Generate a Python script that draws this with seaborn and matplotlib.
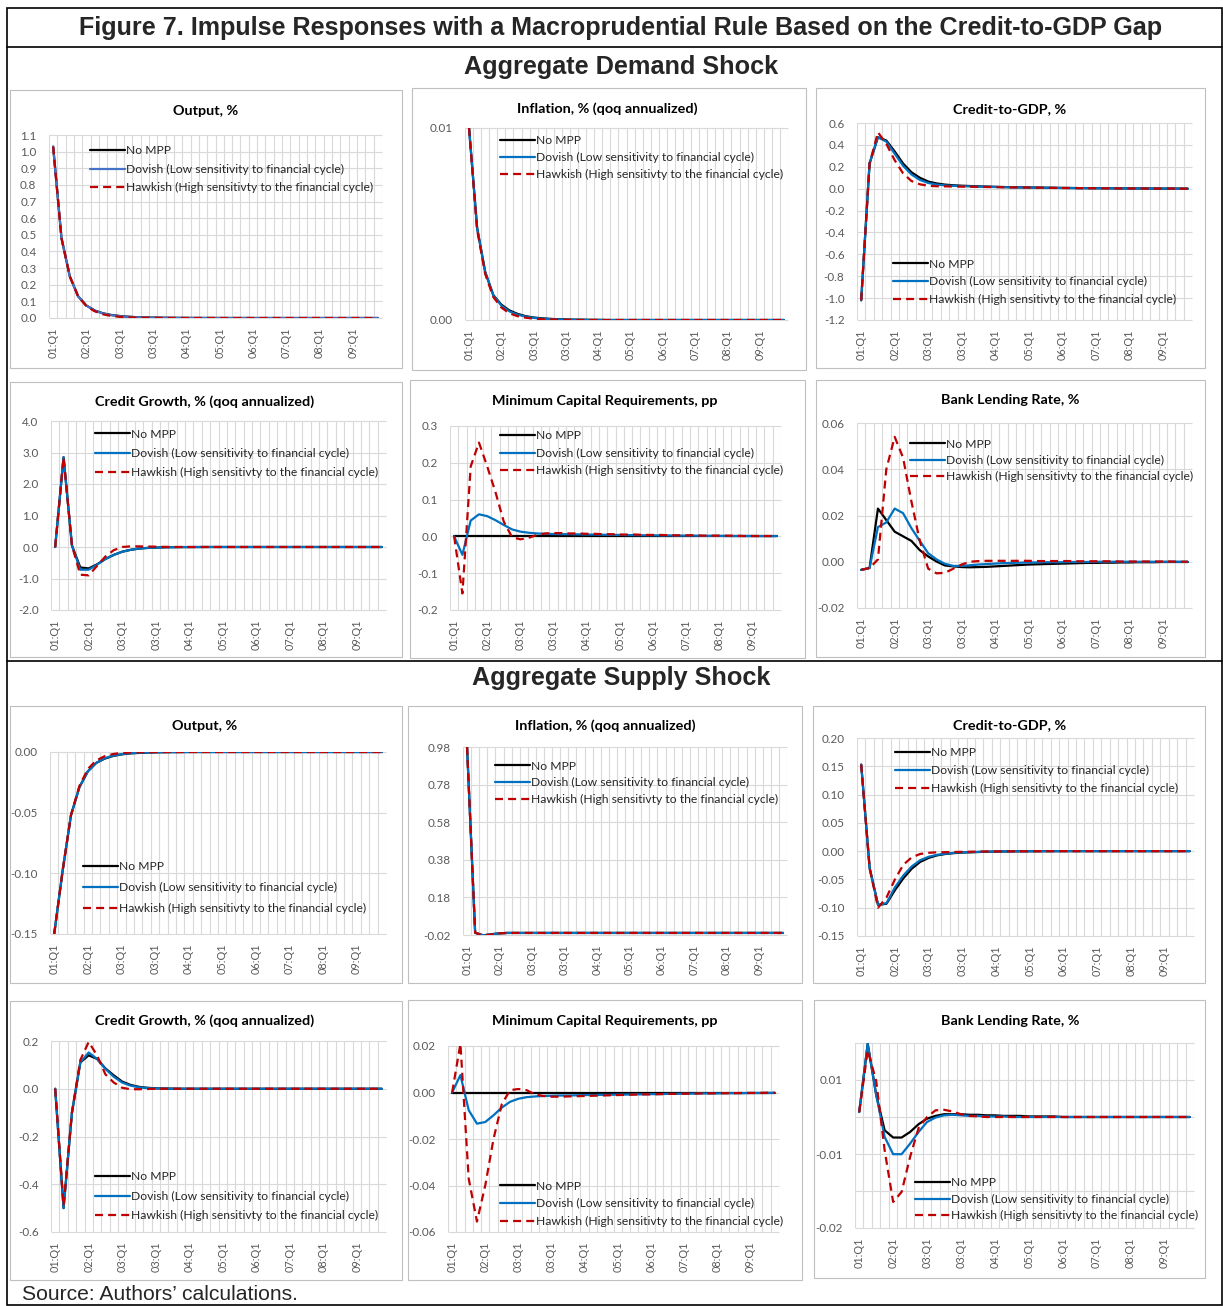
import numpy as np
import pandas as pd
import matplotlib
matplotlib.use("Agg")
import matplotlib.pyplot as plt
import seaborn as sns
from matplotlib.patches import Rectangle
from matplotlib.lines import Line2D

sns.set_theme(style="white")
plt.rcParams["font.family"] = ["Lato", "DejaVu Sans"]

# ---------------- data ----------------
SERIES = ["No MPP",
          "Dovish (Low sensitivity to financial cycle)",
          "Hawkish (High sensitivty to the financial cycle)"]
quarters = list(range(40))
xtick_pos = [0, 4, 8, 12, 16, 20, 24, 28, 32, 36]
xtick_labels = ["01:Q1", "02:Q1", "03:Q1", "03:Q1", "04:Q1", "05:Q1", "06:Q1", "07:Q1", "08:Q1", "09:Q1"]

# Aggregate demand shock
d_output_nompp = [1.03, 0.48, 0.25, 0.13, 0.075, 0.045, 0.028, 0.018, 0.012, 0.008,
                  0.005, 0.0035, 0.0025, 0.0018, 0.0012, 0.0008, 0.0006, 0.0004, 0.0003, 0.0002,
                  0.0002, 0.0001, 0.0001, 0.0001, 0.0, 0.0, 0.0, 0.0, 0.0, 0.0,
                  0.0, 0.0, 0.0, 0.0, 0.0, 0.0, 0.0, 0.0, 0.0, 0.0]
d_output_dovish = [1.03, 0.48, 0.25, 0.13, 0.074, 0.044, 0.027, 0.017, 0.011, 0.007,
                   0.0045, 0.003, 0.002, 0.0015, 0.001, 0.0007, 0.0005, 0.0003, 0.0002, 0.0002,
                   0.0001, 0.0001, 0.0001, 0.0001, 0.0, 0.0, 0.0, 0.0, 0.0, 0.0,
                   0.0, 0.0, 0.0, 0.0, 0.0, 0.0, 0.0, 0.0, 0.0, 0.0]
d_output_hawkish = [1.03, 0.48, 0.25, 0.13, 0.07, 0.04, 0.022, 0.012, 0.007, 0.004,
                    0.0025, 0.0015, 0.001, 0.0006, 0.0004, 0.0003, 0.0002, 0.0001, 0.0001, 0.0001,
                    0.0, 0.0, 0.0, 0.0, 0.0, 0.0, 0.0, 0.0, 0.0, 0.0,
                    0.0, 0.0, 0.0, 0.0, 0.0, 0.0, 0.0, 0.0, 0.0, 0.0]

d_infl_nompp = [0.0100, 0.0048, 0.0025, 0.0013, 0.0008, 0.0005, 0.00032, 0.0002, 0.00013, 0.00009,
                0.00006, 0.00004, 0.00003, 0.00002, 0.000015, 0.00001, 0.00001, 0.0, 0.0, 0.0,
                0.0, 0.0, 0.0, 0.0, 0.0, 0.0, 0.0, 0.0, 0.0, 0.0,
                0.0, 0.0, 0.0, 0.0, 0.0, 0.0, 0.0, 0.0, 0.0, 0.0]
d_infl_dovish = [0.0100, 0.0048, 0.0025, 0.0013, 0.00075, 0.00045, 0.00028, 0.00018, 0.00011, 0.00007,
                 0.00005, 0.00003, 0.00002, 0.00001, 0.00001, 0.0, 0.0, 0.0, 0.0, 0.0,
                 0.0, 0.0, 0.0, 0.0, 0.0, 0.0, 0.0, 0.0, 0.0, 0.0,
                 0.0, 0.0, 0.0, 0.0, 0.0, 0.0, 0.0, 0.0, 0.0, 0.0]
d_infl_hawkish = [0.0100, 0.0047, 0.0024, 0.0012, 0.00065, 0.00035, 0.0002, 0.00012, 0.00007, 0.00004,
                  0.00003, 0.00002, 0.00001, 0.0, 0.0, 0.0, 0.0, 0.0, 0.0, 0.0,
                  0.0, 0.0, 0.0, 0.0, 0.0, 0.0, 0.0, 0.0, 0.0, 0.0,
                  0.0, 0.0, 0.0, 0.0, 0.0, 0.0, 0.0, 0.0, 0.0, 0.0]

d_c2g_nompp = [-1.02, 0.23, 0.47, 0.44, 0.34, 0.23, 0.15, 0.10, 0.065, 0.048,
               0.037, 0.031, 0.027, 0.024, 0.021, 0.019, 0.017, 0.015, 0.013, 0.012,
               0.011, 0.010, 0.009, 0.008, 0.007, 0.006, 0.005, 0.005, 0.004, 0.004,
               0.003, 0.003, 0.002, 0.002, 0.002, 0.001, 0.001, 0.001, 0.001, 0.0]
d_c2g_dovish = [-1.02, 0.23, 0.47, 0.43, 0.32, 0.21, 0.13, 0.08, 0.052, 0.038,
                0.030, 0.026, 0.023, 0.021, 0.019, 0.017, 0.015, 0.014, 0.012, 0.011,
                0.010, 0.009, 0.008, 0.007, 0.006, 0.006, 0.005, 0.004, 0.004, 0.003,
                0.003, 0.002, 0.002, 0.002, 0.001, 0.001, 0.001, 0.001, 0.0, 0.0]
d_c2g_hawkish = [-1.02, 0.23, 0.515, 0.41, 0.26, 0.14, 0.07, 0.04, 0.027, 0.022,
                 0.021, 0.020, 0.019, 0.018, 0.017, 0.015, 0.014, 0.013, 0.012, 0.011,
                 0.010, 0.009, 0.008, 0.007, 0.006, 0.006, 0.005, 0.004, 0.004, 0.003,
                 0.003, 0.002, 0.002, 0.002, 0.001, 0.001, 0.001, 0.001, 0.0, 0.0]

d_cg_nompp = [0.0, 2.85, 0.05, -0.65, -0.68, -0.55, -0.38, -0.25, -0.15, -0.09,
              -0.05, -0.03, -0.02, -0.01, -0.006, -0.003, -0.002, -0.001, 0.0, 0.0,
              0.0, 0.0, 0.0, 0.0, 0.0, 0.0, 0.0, 0.0, 0.0, 0.0,
              0.0, 0.0, 0.0, 0.0, 0.0, 0.0, 0.0, 0.0, 0.0, 0.0]
d_cg_dovish = [0.0, 2.85, 0.05, -0.72, -0.72, -0.56, -0.38, -0.25, -0.15, -0.09,
               -0.05, -0.03, -0.018, -0.01, -0.006, -0.003, -0.002, -0.001, 0.0, 0.0,
               0.0, 0.0, 0.0, 0.0, 0.0, 0.0, 0.0, 0.0, 0.0, 0.0,
               0.0, 0.0, 0.0, 0.0, 0.0, 0.0, 0.0, 0.0, 0.0, 0.0]
d_cg_hawkish = [0.0, 2.85, 0.05, -0.88, -0.90, -0.60, -0.30, -0.10, 0.0, 0.02,
                0.02, 0.015, 0.01, 0.005, 0.002, 0.001, 0.0, 0.0, 0.0, 0.0,
                0.0, 0.0, 0.0, 0.0, 0.0, 0.0, 0.0, 0.0, 0.0, 0.0,
                0.0, 0.0, 0.0, 0.0, 0.0, 0.0, 0.0, 0.0, 0.0, 0.0]

d_mcr_nompp = [0.0, 0.0, 0.0, 0.0, 0.0, 0.0, 0.0, 0.0, 0.0, 0.0,
               0.0, 0.0, 0.0, 0.0, 0.0, 0.0, 0.0, 0.0, 0.0, 0.0,
               0.0, 0.0, 0.0, 0.0, 0.0, 0.0, 0.0, 0.0, 0.0, 0.0,
               0.0, 0.0, 0.0, 0.0, 0.0, 0.0, 0.0, 0.0, 0.0, 0.0]
d_mcr_dovish = [0.0, -0.05, 0.043, 0.06, 0.055, 0.044, 0.031, 0.019, 0.013, 0.01,
                0.008, 0.007, 0.0065, 0.006, 0.006, 0.0055, 0.005, 0.005, 0.0045, 0.004,
                0.004, 0.0035, 0.0035, 0.003, 0.003, 0.0025, 0.0025, 0.002, 0.002, 0.002,
                0.0015, 0.0015, 0.0015, 0.001, 0.001, 0.001, 0.001, 0.0008, 0.0008, 0.0007]
d_mcr_hawkish = [0.0, -0.155, 0.19, 0.255, 0.19, 0.12, 0.04, -0.002, -0.008, -0.004,
                 0.004, 0.008, 0.009, 0.009, 0.008, 0.008, 0.007, 0.007, 0.006, 0.006,
                 0.005, 0.005, 0.005, 0.004, 0.004, 0.004, 0.003, 0.003, 0.003, 0.003,
                 0.002, 0.002, 0.002, 0.002, 0.002, 0.001, 0.001, 0.001, 0.001, 0.001]

d_blr_nompp = [-0.0035, -0.0027, 0.023, 0.018, 0.013, 0.011, 0.009, 0.005, 0.0023, 0.0001,
               -0.0016, -0.002, -0.0023, -0.0024, -0.0023, -0.0022, -0.002, -0.0018, -0.0016, -0.0014,
               -0.0012, -0.0011, -0.001, -0.0009, -0.0008, -0.0007, -0.0006, -0.0005, -0.0005, -0.0004,
               -0.0004, -0.0003, -0.0003, -0.0002, -0.0002, -0.0002, -0.0001, -0.0001, -0.0001, -0.0001]
d_blr_dovish = [-0.0035, -0.0027, 0.015, 0.017, 0.023, 0.021, 0.0145, 0.009, 0.0037, 0.001,
                -0.0009, -0.0018, -0.0018, -0.0015, -0.0012, -0.001, -0.0008, -0.0006, -0.0005, -0.0004,
                -0.0003, -0.0003, -0.0002, -0.0002, -0.0002, -0.0001, -0.0001, -0.0001, 0.0, 0.0,
                0.0, 0.0, 0.0, 0.0, 0.0, 0.0, 0.0, 0.0, 0.0, 0.0]
d_blr_hawkish = [-0.0035, -0.0027, 0.001, 0.040, 0.054, 0.045, 0.026, 0.009, -0.003, -0.005,
                 -0.0048, -0.003, -0.0012, 0.0, 0.0003, 0.0004, 0.0004, 0.0004, 0.0004, 0.0004,
                 0.0004, 0.0003, 0.0003, 0.0003, 0.0003, 0.0003, 0.0002, 0.0002, 0.0002, 0.0002,
                 0.0002, 0.0001, 0.0001, 0.0001, 0.0001, 0.0001, 0.0001, 0.0001, 0.0, 0.0]

# Aggregate supply shock
s_output_nompp = [-0.15, -0.098, -0.052, -0.029, -0.016, -0.009, -0.0055, -0.0033, -0.002, -0.0012,
                  -0.0008, -0.0005, -0.0003, -0.0002, -0.0001, -0.0001, 0.0, 0.0, 0.0, 0.0,
                  0.0, 0.0, 0.0, 0.0, 0.0, 0.0, 0.0, 0.0, 0.0, 0.0,
                  0.0, 0.0, 0.0, 0.0, 0.0, 0.0, 0.0, 0.0, 0.0, 0.0]
s_output_dovish = [-0.15, -0.098, -0.052, -0.029, -0.016, -0.009, -0.0052, -0.003, -0.0018, -0.001,
                   -0.0006, -0.0004, -0.0002, -0.0001, -0.0001, 0.0, 0.0, 0.0, 0.0, 0.0,
                   0.0, 0.0, 0.0, 0.0, 0.0, 0.0, 0.0, 0.0, 0.0, 0.0,
                   0.0, 0.0, 0.0, 0.0, 0.0, 0.0, 0.0, 0.0, 0.0, 0.0]
s_output_hawkish = [-0.15, -0.098, -0.052, -0.028, -0.014, -0.007, -0.0035, -0.0017, -0.0008, -0.0004,
                    -0.0002, -0.0001, 0.0, 0.0, 0.0, 0.0, 0.0, 0.0, 0.0, 0.0,
                    0.0, 0.0, 0.0, 0.0, 0.0, 0.0, 0.0, 0.0, 0.0, 0.0,
                    0.0, 0.0, 0.0, 0.0, 0.0, 0.0, 0.0, 0.0, 0.0, 0.0]

s_infl_nompp = [0.98, -0.008, -0.022, -0.016, -0.011, -0.009, -0.009, -0.009, -0.009, -0.009,
                -0.009, -0.009, -0.009, -0.009, -0.009, -0.009, -0.009, -0.009, -0.009, -0.009,
                -0.009, -0.009, -0.009, -0.009, -0.009, -0.009, -0.009, -0.009, -0.009, -0.009,
                -0.009, -0.009, -0.009, -0.009, -0.009, -0.009, -0.009, -0.009, -0.009, -0.009]
s_infl_dovish = [0.98, -0.008, -0.022, -0.016, -0.011, -0.009, -0.009, -0.009, -0.009, -0.009,
                 -0.009, -0.009, -0.009, -0.009, -0.009, -0.009, -0.009, -0.009, -0.009, -0.009,
                 -0.009, -0.009, -0.009, -0.009, -0.009, -0.009, -0.009, -0.009, -0.009, -0.009,
                 -0.009, -0.009, -0.009, -0.009, -0.009, -0.009, -0.009, -0.009, -0.009, -0.009]
s_infl_hawkish = [0.98, -0.008, -0.023, -0.017, -0.011, -0.009, -0.009, -0.009, -0.009, -0.009,
                  -0.009, -0.009, -0.009, -0.009, -0.009, -0.009, -0.009, -0.009, -0.009, -0.009,
                  -0.009, -0.009, -0.009, -0.009, -0.009, -0.009, -0.009, -0.009, -0.009, -0.009,
                  -0.009, -0.009, -0.009, -0.009, -0.009, -0.009, -0.009, -0.009, -0.009, -0.009]

s_c2g_nompp = [0.153, -0.03, -0.095, -0.093, -0.069, -0.048, -0.031, -0.019, -0.012, -0.0075,
               -0.005, -0.0035, -0.0025, -0.002, -0.0015, -0.001, -0.0008, -0.0006, -0.0004, -0.0003,
               -0.0002, -0.0002, -0.0001, -0.0001, 0.0, 0.0, 0.0, 0.0, 0.0, 0.0,
               0.0, 0.0, 0.0, 0.0, 0.0, 0.0, 0.0, 0.0, 0.0, 0.0]
s_c2g_dovish = [0.153, -0.03, -0.095, -0.092, -0.064, -0.043, -0.027, -0.016, -0.010, -0.0065,
                -0.0045, -0.003, -0.0022, -0.0017, -0.0012, -0.0009, -0.0007, -0.0005, -0.0003, -0.0002,
                -0.0002, -0.0001, -0.0001, 0.0, 0.0, 0.0, 0.0, 0.0, 0.0, 0.0,
                0.0, 0.0, 0.0, 0.0, 0.0, 0.0, 0.0, 0.0, 0.0, 0.0]
s_c2g_hawkish = [0.153, -0.03, -0.10, -0.082, -0.05, -0.024, -0.011, -0.005, -0.003, -0.002,
                 -0.0018, -0.0015, -0.0012, -0.001, -0.0008, -0.0006, -0.0005, -0.0004, -0.0003, -0.0002,
                 -0.0002, -0.0001, -0.0001, 0.0, 0.0, 0.0, 0.0, 0.0, 0.0, 0.0,
                 0.0, 0.0, 0.0, 0.0, 0.0, 0.0, 0.0, 0.0, 0.0, 0.0]

s_cg_nompp = [0.0, -0.50, -0.10, 0.11, 0.14, 0.125, 0.085, 0.056, 0.03, 0.016,
              0.008, 0.004, 0.002, 0.001, 0.0005, 0.0, 0.0, 0.0, 0.0, 0.0,
              0.0, 0.0, 0.0, 0.0, 0.0, 0.0, 0.0, 0.0, 0.0, 0.0,
              0.0, 0.0, 0.0, 0.0, 0.0, 0.0, 0.0, 0.0, 0.0, 0.0]
s_cg_dovish = [0.0, -0.50, -0.10, 0.11, 0.152, 0.125, 0.083, 0.05, 0.026, 0.013,
               0.006, 0.003, 0.0015, 0.001, 0.0, 0.0, 0.0, 0.0, 0.0, 0.0,
               0.0, 0.0, 0.0, 0.0, 0.0, 0.0, 0.0, 0.0, 0.0, 0.0,
               0.0, 0.0, 0.0, 0.0, 0.0, 0.0, 0.0, 0.0, 0.0, 0.0]
s_cg_hawkish = [0.0, -0.49, -0.10, 0.12, 0.196, 0.14, 0.06, 0.026, 0.004, -0.002,
                -0.002, -0.001, 0.0, 0.0, 0.0, 0.0, 0.0, 0.0, 0.0, 0.0,
                0.0, 0.0, 0.0, 0.0, 0.0, 0.0, 0.0, 0.0, 0.0, 0.0,
                0.0, 0.0, 0.0, 0.0, 0.0, 0.0, 0.0, 0.0, 0.0, 0.0]

s_mcr_nompp = [0.0, 0.0, 0.0, 0.0, 0.0, 0.0, 0.0, 0.0, 0.0, 0.0,
               0.0, 0.0, 0.0, 0.0, 0.0, 0.0, 0.0, 0.0, 0.0, 0.0,
               0.0, 0.0, 0.0, 0.0, 0.0, 0.0, 0.0, 0.0, 0.0, 0.0,
               0.0, 0.0, 0.0, 0.0, 0.0, 0.0, 0.0, 0.0, 0.0, 0.0]
s_mcr_dovish = [0.0, 0.0075, -0.0076, -0.0134, -0.0127, -0.0098, -0.0065, -0.004, -0.0027, -0.002,
                -0.0017, -0.0015, -0.0014, -0.0013, -0.0013, -0.0012, -0.0011, -0.0011, -0.001, -0.001,
                -0.0009, -0.0009, -0.0008, -0.0008, -0.0007, -0.0007, -0.0006, -0.0006, -0.0005, -0.0005,
                -0.0004, -0.0004, -0.0004, -0.0003, -0.0003, -0.0003, -0.0002, -0.0002, -0.0002, -0.0001]
s_mcr_hawkish = [0.0, 0.021, -0.037, -0.0555, -0.040, -0.020, -0.005, 0.001, 0.0015, 0.001,
                 -0.0008, -0.0015, -0.0018, -0.0018, -0.0017, -0.0016, -0.0015, -0.0014, -0.0013, -0.0012,
                 -0.0011, -0.001, -0.0009, -0.0008, -0.0008, -0.0007, -0.0006, -0.0006, -0.0005, -0.0005,
                 -0.0004, -0.0004, -0.0003, -0.0003, -0.0003, -0.0002, -0.0002, -0.0002, -0.0001, -0.0001]

s_blr_nompp = [0.0009, 0.0132, 0.004, -0.0024, -0.0037, -0.0037, -0.0027, -0.0013, -0.0003, 0.0002,
               0.0005, 0.0005, 0.0005, 0.0004, 0.0004, 0.0003, 0.0003, 0.0002, 0.0002, 0.0002,
               0.0001, 0.0001, 0.0001, 0.0001, 0.0, 0.0, 0.0, 0.0, 0.0, 0.0,
               0.0, 0.0, 0.0, 0.0, 0.0, 0.0, 0.0, 0.0, 0.0, 0.0]
s_blr_dovish = [0.0009, 0.0132, 0.004, -0.0036, -0.0067, -0.0067, -0.0048, -0.0027, -0.0009, -0.0001,
                0.0003, 0.0004, 0.0003, 0.0002, 0.0002, 0.0001, 0.0001, 0.0001, 0.0, 0.0,
                0.0, 0.0, 0.0, 0.0, 0.0, 0.0, 0.0, 0.0, 0.0, 0.0,
                0.0, 0.0, 0.0, 0.0, 0.0, 0.0, 0.0, 0.0, 0.0, 0.0]
s_blr_hawkish = [0.0009, 0.012, 0.0065, -0.006, -0.0153, -0.0135, -0.0072, -0.002, 0.0, 0.0012,
                 0.0013, 0.001, 0.0005, 0.0002, 0.0001, 0.0, 0.0, 0.0, 0.0, 0.0,
                 0.0, 0.0, 0.0, 0.0, 0.0, 0.0, 0.0, 0.0, 0.0, 0.0,
                 0.0, 0.0, 0.0, 0.0, 0.0, 0.0, 0.0, 0.0, 0.0, 0.0]

# y-axis ticks / labels
yt_out_d = [0.0, 0.1, 0.2, 0.3, 0.4, 0.5, 0.6, 0.7, 0.8, 0.9, 1.0, 1.1]
yt_inf_d = [0.0, 0.01]
yt_c2g_d = [-1.2, -1.0, -0.8, -0.6, -0.4, -0.2, 0.0, 0.2, 0.4, 0.6]
yt_cg_d = [-2.0, -1.0, 0.0, 1.0, 2.0, 3.0, 4.0]
yt_mcr_d = [-0.2, -0.1, 0.0, 0.1, 0.2, 0.3]
yt_blr_d = [-0.02, 0.0, 0.02, 0.04, 0.06]
yt_out_s = [-0.15, -0.10, -0.05, 0.0]
yt_inf_s = [-0.02, 0.18, 0.38, 0.58, 0.78, 0.98]
yt_c2g_s = [-0.15, -0.10, -0.05, 0.0, 0.05, 0.10, 0.15, 0.20]
yt_cg_s = [-0.6, -0.4, -0.2, 0.0, 0.2]
yt_mcr_s = [-0.06, -0.04, -0.02, 0.0, 0.02]
yt_blr_s_grid = [-0.02, -0.013333, -0.006667, 0.0, 0.006667, 0.013333]
yt_blr_s = [-0.02, -0.006667, 0.006667]

BLACK, BLUE, LBLUE, RED = "#000000", "#0070C0", "#4472C4", "#C00000"

W, H = 1223, 1306
fig = plt.figure(figsize=(W / 100, H / 100), dpi=100)


def fx(x):
    return x / W


def fy(y):
    return 1 - y / H


def lbls(ticks, fmt):
    out = []
    for v in ticks:
        s = fmt % v
        if s.startswith("-") and float(s) == 0:
            s = s[1:]
        out.append(s)
    return out


panels = [
    dict(title="Output, %", data=(d_output_nompp, d_output_dovish, d_output_hawkish),
         box=(10, 90, 402, 368), tpos=(206, 111), rect=(49, 382, 135, 318),
         ylim=(0, 1.1), grid=yt_out_d, ticks=yt_out_d, fmt="%.1f", leg=(90, 150, 19), blue=LBLUE),
    dict(title="Inflation, % (qoq annualized)", data=(d_infl_nompp, d_infl_dovish, d_infl_hawkish),
         box=(412, 88, 806, 370), tpos=(607, 109), rect=(465, 788, 128, 320),
         ylim=(0, 0.01), grid=yt_inf_d, ticks=yt_inf_d, fmt="%.2f", leg=(500, 140, 17.5), blue=BLUE),
    dict(title="Credit-to-GDP, %", data=(d_c2g_nompp, d_c2g_dovish, d_c2g_hawkish),
         box=(816, 88, 1205, 368), tpos=(1010, 109), rect=(857, 1192, 123, 320),
         ylim=(-1.2, 0.6), grid=yt_c2g_d, ticks=yt_c2g_d, fmt="%.1f", leg=(893, 263, 18.5), blue=BLUE),
    dict(title="Credit Growth, % (qoq annualized)", data=(d_cg_nompp, d_cg_dovish, d_cg_hawkish),
         box=(10, 382, 402, 657), tpos=(205, 402), rect=(51, 386, 421, 610),
         ylim=(-2, 4), grid=yt_cg_d, ticks=yt_cg_d, fmt="%.1f", leg=(95, 433, 20), blue=BLUE),
    dict(title="Minimum Capital Requirements, pp", data=(d_mcr_nompp, d_mcr_dovish, d_mcr_hawkish),
         box=(410, 380, 805, 658), tpos=(605, 401), rect=(450, 781, 426, 610),
         ylim=(-0.2, 0.3), grid=yt_mcr_d, ticks=yt_mcr_d, fmt="%.1f", leg=(500, 435, 18), blue=BLUE),
    dict(title="Bank Lending Rate, %", data=(d_blr_nompp, d_blr_dovish, d_blr_hawkish),
         box=(816, 380, 1205, 657), tpos=(1010, 400), rect=(857, 1192, 423, 608),
         ylim=(-0.02, 0.06), grid=yt_blr_d, ticks=yt_blr_d, fmt="%.2f", leg=(910, 443, 17), blue=BLUE),
    dict(title="Output, %", data=(s_output_nompp, s_output_dovish, s_output_hawkish),
         box=(10, 706, 402, 983), tpos=(205, 726), rect=(50, 386, 752, 934),
         ylim=(-0.15, 0.0), grid=yt_out_s, ticks=yt_out_s, fmt="%.2f", leg=(83, 866, 21.5), blue=BLUE),
    dict(title="Inflation, % (qoq annualized)", data=(s_infl_nompp, s_infl_dovish, s_infl_hawkish),
         box=(408, 706, 802, 983), tpos=(605, 726), rect=(463, 787, 747, 935),
         ylim=(-0.02, 0.98), grid=yt_inf_s, ticks=yt_inf_s, fmt="%.2f", leg=(495, 765, 17.5), blue=BLUE),
    dict(title="Credit-to-GDP, %", data=(s_c2g_nompp, s_c2g_dovish, s_c2g_hawkish),
         box=(813, 706, 1205, 983), tpos=(1010, 725), rect=(857, 1194, 738, 936),
         ylim=(-0.15, 0.20), grid=yt_c2g_s, ticks=yt_c2g_s, fmt="%.2f", leg=(895, 752, 18.5), blue=BLUE),
    dict(title="Credit Growth, % (qoq annualized)", data=(s_cg_nompp, s_cg_dovish, s_cg_hawkish),
         box=(10, 1001, 402, 1280), tpos=(205, 1021), rect=(51, 386, 1041, 1232),
         ylim=(-0.6, 0.2), grid=yt_cg_s, ticks=yt_cg_s, fmt="%.1f", leg=(95, 1176, 20), blue=BLUE),
    dict(title="Minimum Capital Requirements, pp", data=(s_mcr_nompp, s_mcr_dovish, s_mcr_hawkish),
         box=(408, 1000, 802, 1280), tpos=(605, 1021), rect=(448, 779, 1046, 1232),
         ylim=(-0.06, 0.02), grid=yt_mcr_s, ticks=yt_mcr_s, fmt="%.2f", leg=(500, 1185, 18.5), blue=BLUE),
    dict(title="Bank Lending Rate, %", data=(s_blr_nompp, s_blr_dovish, s_blr_hawkish),
         box=(814, 1000, 1205, 1278), tpos=(1010, 1021), rect=(855, 1194, 1043, 1228),
         ylim=(-0.02, 0.013333), grid=yt_blr_s_grid, ticks=yt_blr_s, fmt="%.2f", leg=(915, 1182, 17), blue=BLUE),
]

GRID = "#D9D9D9"
TICKC = "#595959"
LEG_FS = 8.7
fs_px = LEG_FS * 100 / 72

for p in panels:
    x0, y0, x1, y1 = p["box"]
    fig.add_artist(Rectangle((fx(x0), fy(y1)), (x1 - x0) / W, (y1 - y0) / H,
                             transform=fig.transFigure, fill=False, ec="#BFBFBF", lw=0.8))
    fig.text(fx(p["tpos"][0]), fy(p["tpos"][1]), p["title"], ha="center", va="center",
             fontsize=10.4, fontweight="bold", color="#000000")
    l, r, t, b = p["rect"]
    ax = fig.add_axes([fx(l), fy(b), (r - l) / W, (b - t) / H])
    # horizontal gridlines (drawn first, beneath the data)
    ax.hlines(p["grid"], -0.5, 39.5, colors=GRID, linewidths=0.8, zorder=0.6, clip_on=False)
    a, d, h = p["data"]
    df = pd.DataFrame({"q": quarters * 3,
                       "value": list(a) + list(d) + list(h),
                       "scenario": [SERIES[0]] * 40 + [SERIES[1]] * 40 + [SERIES[2]] * 40})
    sns.lineplot(data=df, x="q", y="value", hue="scenario", style="scenario",
                 hue_order=SERIES, style_order=SERIES,
                 palette=[BLACK, p["blue"], RED],
                 dashes={SERIES[0]: "", SERIES[1]: "", SERIES[2]: (3.6, 2.3)},
                 linewidth=1.6, ax=ax, legend=False)
    ax.set_xlabel("")
    ax.set_ylabel("")
    ax.set_xlim(-0.5, 39.5)
    ax.set_ylim(*p["ylim"])
    ax.set_xticks(xtick_pos)
    ax.set_xticklabels(xtick_labels, rotation=90, fontsize=7.8, color=TICKC)
    ax.set_xticks(np.arange(-0.5, 40, 1), minor=True)
    ax.set_yticks(p["ticks"])
    ax.set_yticklabels(lbls(p["ticks"], p["fmt"]), fontsize=8.4, color=TICKC)
    ax.tick_params(which="both", length=0)
    ax.tick_params(axis="x", pad=7)
    ax.tick_params(axis="y", pad=9)
    ax.grid(False)
    ax.xaxis.grid(True, which="minor", color=GRID, lw=0.8)
    ax.set_axisbelow(True)
    for s in ax.spines.values():
        s.set_visible(False)
    ax.set_facecolor("none")
    lx, ly, sp = p["leg"]
    row_h = 0.96 * fs_px
    data_lines = [ln for ln in ax.lines][:3]
    leg = ax.legend(data_lines, SERIES, loc="upper left",
                    bbox_to_anchor=(fx(lx), fy(ly - 4.5)), bbox_transform=fig.transFigure,
                    frameon=False, fontsize=LEG_FS, handlelength=2.9, handletextpad=0.12,
                    borderpad=0, borderaxespad=0, labelspacing=max(0.05, (sp - row_h) / fs_px))
    for txt in leg.get_texts():
        txt.set_color("#262626")

# frame, separators, headings
fig.add_artist(Rectangle((fx(7), fy(1305)), (1222 - 7) / W, (1305 - 8) / H,
                         transform=fig.transFigure, fill=False, ec="black", lw=1.2))
for yy in (47, 661):
    fig.add_artist(Line2D([fx(7), fx(1222)], [fy(yy), fy(yy)], transform=fig.transFigure,
                          color="black", lw=1.2))
fig.text(fx(621), fy(28), "Figure 7. Impulse Responses with a Macroprudential Rule Based on the Credit-to-GDP Gap",
         ha="center", va="center", fontsize=18.1, fontweight="bold", family=["Liberation Sans", "DejaVu Sans"])
fig.text(fx(621), fy(67), "Aggregate Demand Shock", ha="center", va="center", fontsize=18.2,
         fontweight="bold", family=["Liberation Sans", "DejaVu Sans"])
fig.text(fx(621), fy(678), "Aggregate Supply Shock", ha="center", va="center", fontsize=18.2,
         fontweight="bold", family=["Liberation Sans", "DejaVu Sans"])
fig.text(fx(22), fy(1294), "Source: Authors\u2019 calculations.", ha="left", va="center", fontsize=15.2,
         family=["Liberation Sans", "DejaVu Sans"])

fig.savefig("out.png", dpi=100, facecolor="white")
